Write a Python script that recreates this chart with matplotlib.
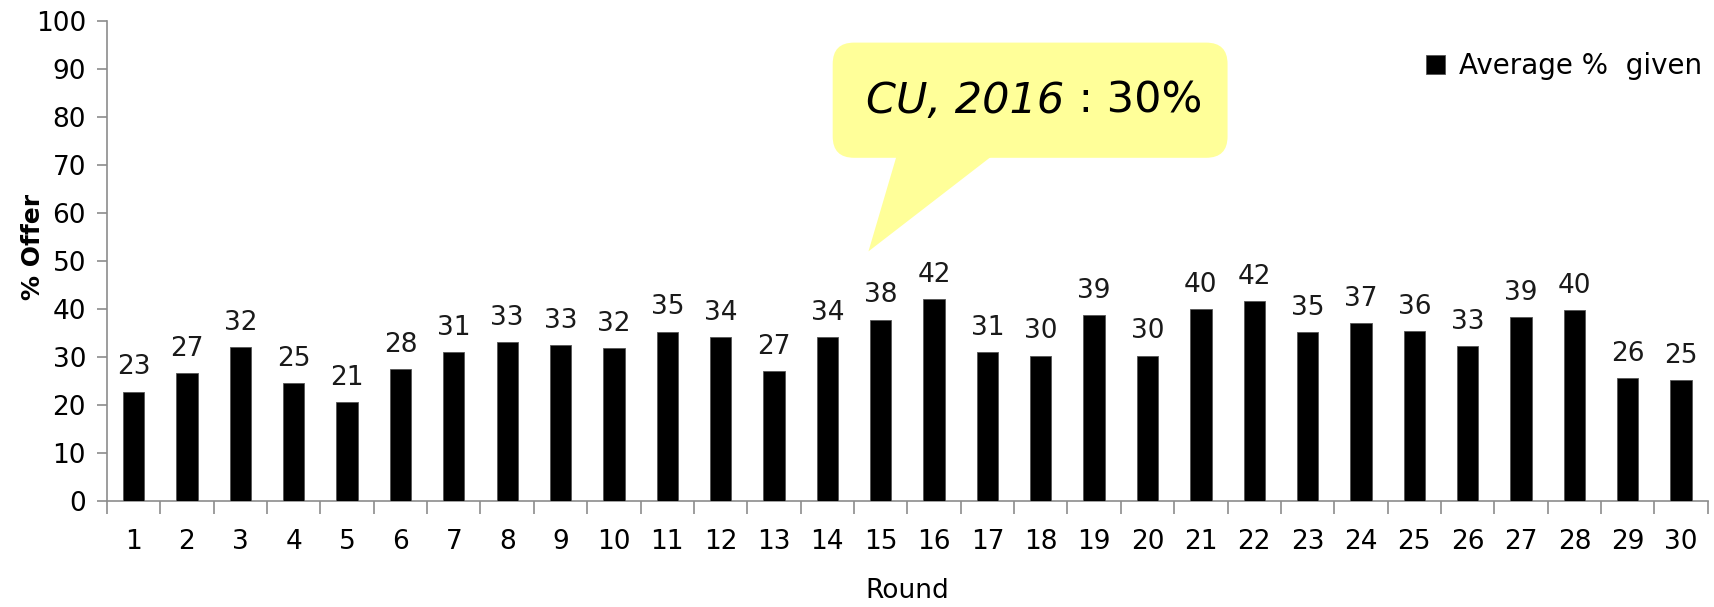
import matplotlib.pyplot as plt
from matplotlib.patches import FancyBboxPatch, Polygon

rounds = list(range(1, 31))
avg_given = [22.8, 26.7, 32.1, 24.6, 20.7, 27.4, 31.0, 33.2, 32.4, 31.8,
             35.3, 34.2, 27.1, 34.2, 37.8, 42.0, 31.0, 30.3, 38.8, 30.3,
             39.9, 41.6, 35.2, 37.0, 35.5, 32.3, 38.4, 39.8, 25.6, 25.2]
value_labels = [23, 27, 32, 25, 21, 28, 31, 33, 33, 32,
                35, 34, 27, 34, 38, 42, 31, 30, 39, 30,
                40, 42, 35, 37, 36, 33, 39, 40, 26, 25]
y_ticks = list(range(0, 101, 10))

plt.rcParams["font.family"] = "DejaVu Sans"
axis_grey = "#8c8c8c"

fig = plt.figure(figsize=(17.14, 6.07), dpi=100)
ax = fig.add_axes([0.0624, 0.1746, 0.934, 0.7908])

ax.bar(rounds, avg_given, width=0.4, color="black", edgecolor="#555555",
       linewidth=0.6, label="Average %  given", zorder=3)

for x, v, lab in zip(rounds, avg_given, value_labels):
    ax.annotate(str(lab), (x, v), xytext=(0, 8), textcoords="offset points",
                ha="center", va="bottom", fontsize=19, color="#1a1a1a")

ax.set_xlim(0.5, 30.5)
ax.set_ylim(0, 100)
ax.set_yticks(y_ticks)
ax.set_xticks(rounds)
ax.set_xticks([r + 0.5 for r in [0] + rounds], minor=True)
ax.tick_params(axis="x", which="major", length=0, pad=20, labelsize=19)
ax.tick_params(axis="x", which="minor", length=9, width=1.2, color=axis_grey)
ax.tick_params(axis="y", length=7, width=1.2, color=axis_grey, labelsize=19, pad=8)

for side in ["top", "right"]:
    ax.spines[side].set_visible(False)
for side in ["left", "bottom"]:
    ax.spines[side].set_color(axis_grey)
    ax.spines[side].set_linewidth(1.2)

ax.set_xlabel("Round", fontsize=19)
ax.set_ylabel("% Offer", fontsize=18, fontweight="bold")
ax.yaxis.set_label_coords(-0.039, 0.53)
ax.xaxis.set_label_coords(0.5, -0.16)

ax.legend(loc="center right", bbox_to_anchor=(1.012, 0.906), frameon=False,
          fontsize=20, handlelength=0.7, handleheight=0.7, handletextpad=0.5)

# speech-bubble callout
yellow = "#ffff99"
bubble = FancyBboxPatch((14.1, 71.5), 7.4, 24.0,
                        boxstyle="round,pad=0,rounding_size=0.4",
                        mutation_aspect=11.1, fc=yellow, ec="none", zorder=4)
ax.add_patch(bubble)
tail = Polygon([(15.3, 72.0), (17.1, 72.0), (14.77, 52.0)], closed=True,
               fc=yellow, ec="none", zorder=4)
ax.add_patch(tail)
t1 = ax.text(14.73, 80.9, "CU, 2016", fontsize=31, style="italic",
             ha="left", va="baseline", zorder=5)
ax.annotate(" : 30%", xy=(1, 0), xycoords=t1, fontsize=31,
            ha="left", va="bottom", zorder=5)

fig.savefig("out.png", dpi=100)
